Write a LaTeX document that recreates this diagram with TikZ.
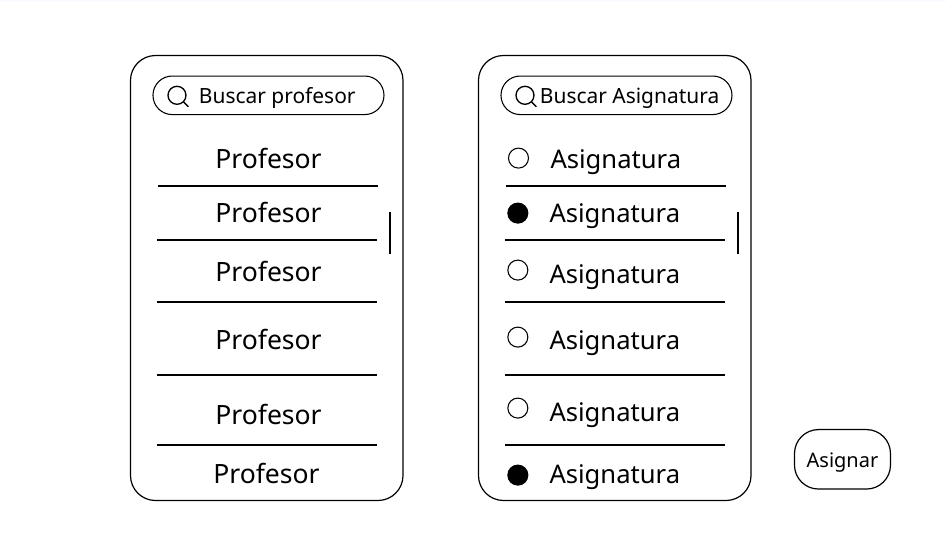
\documentclass[tikz,border=0pt]{standalone}
\usepackage{fontspec}
\setmainfont{Noto Sans}
\usetikzlibrary{positioning}

\begin{document}
\begin{tikzpicture}[
  x=0.75pt, y=-0.75pt,
  every node/.style={outer sep=0pt},
  panel/.style={draw, rounded corners=18.75pt, minimum width=204.4pt,
              minimum height=333.75pt, inner sep=0pt, line width=0.9pt},
  searchbox/.style={draw, rounded corners=14.4pt, minimum width=173.25pt,
              minimum height=28.9pt, inner sep=0pt, line width=0.8pt},
  lens/.style={draw, circle, minimum size=13.5pt, inner sep=0pt, line width=1pt},
  searchtext/.style={inner sep=0pt, text height=13.85pt, text depth=1.15pt,
              font=\fontsize{15.7}{18}\selectfont},
  item/.style={inner sep=0pt, minimum height=22.5pt, text height=18.75pt, text depth=3.75pt,
              font=\fontsize{19.9}{23}\selectfont},
  subject/.style={item, font=\fontsize{19.2}{23}\selectfont},
  radio/.style={draw, circle, minimum size=15pt, inner sep=0pt, line width=0.8pt},
  chosen/.style={radio, fill=black},
  sep/.style={line width=1.1pt},
  scrollmark/.style={line width=1.5pt},
  sendbox/.style={draw, rounded corners=18pt, minimum width=72pt,
              minimum height=44.6pt, inner sep=0pt, line width=0.9pt,
              text height=13.85pt, text depth=1.15pt,
              font=\fontsize{15}{18}\selectfont}
 ]
\useasboundingbox (0,0) rectangle (946,536);
\fill[black!4!blue!2!white] (0,0) rectangle (946,1.5);

% teachers
\node[panel] (panelA) at (266.75,278) {};
\node[searchbox, below=15.4pt of panelA.north, xshift=1.3pt] (searchA) {};
\node[lens, right=11.25pt of searchA.west] (lensA) {};
\coordinate[below right=3.75pt and 3.75pt of lensA.south east] (handleA);
\node[searchtext, right=9.75pt of lensA] (labelA) {Buscar profesor};
\node[item, below=21.4pt of searchA] (profA) {Profesor};
\node[item, below=18pt of profA] (profB) {Profesor};
\node[item, below=21.75pt of profB] (profC) {Profesor};
\node[item, below=28.5pt of profC] (profD) {Profesor};
\node[item, below=33.75pt of profD] (profE) {Profesor};
\node[item, below=21.75pt of profE, xshift=-1.5pt] (profF) {Profesor};
\coordinate (sepAl) at (158,186);
\coordinate (sepAr) at (378,186);
\coordinate (sepBl) at (157,240);
\coordinate (sepBr) at (377,240);
\coordinate (sepCl) at (157,302);
\coordinate (sepCr) at (377,302);
\coordinate (sepDl) at (157,375);
\coordinate (sepDr) at (377,375);
\coordinate (sepEl) at (157,445);
\coordinate (sepEr) at (377,445);
\coordinate[below left=117.4pt and 10.1pt of panelA.north east] (scrollAt);
\coordinate[below left=148.9pt and 10.1pt of panelA.north east] (scrollAb);
\draw[line width=1pt] (lensA) -- (handleA);
\draw[sep] (sepAl) -- (sepAr);
\draw[sep] (sepBl) -- (sepBr);
\draw[sep] (sepCl) -- (sepCr);
\draw[sep] (sepDl) -- (sepDr);
\draw[sep] (sepEl) -- (sepEr);
\draw[scrollmark] (scrollAt) -- (scrollAb);

% subjects
\node[panel, right=56.6pt of panelA] (panelB) {};
\node[searchbox, below=15.4pt of panelB.north, xshift=1.3pt] (searchB) {};
\node[lens, right=11.25pt of searchB.west] (lensB) {};
\coordinate[below right=3.75pt and 3.75pt of lensB.south east] (handleB);
\node[searchtext, right=4.5pt of lensB] (labelB) {Buscar Asignatura};
\node[subject, below=21.4pt of searchB, xshift=-0.5pt] (asigA) {Asignatura};
\node[subject, below=18pt of asigA, xshift=-0.75pt] (asigB) {Asignatura};
\node[subject, below=23.25pt of asigB] (asigC) {Asignatura};
\node[subject, below=27pt of asigC] (asigD) {Asignatura};
\node[subject, below=31.5pt of asigD] (asigE) {Asignatura};
\node[subject, below=24pt of asigE] (asigF) {Asignatura};
\node[radio, left=16.5pt of asigA] (radioA) {};
\node[chosen, left=16.25pt of asigB, yshift=-0.75pt] (radioB) {};
\node[radio, left=16.25pt of asigC, yshift=2.25pt] (radioC) {};
\node[radio, left=16.25pt of asigD, yshift=1.5pt] (radioD) {};
\node[radio, left=16.25pt of asigE, yshift=2.25pt] (radioE) {};
\node[chosen, left=16.25pt of asigF, yshift=-1.5pt] (radioF) {};
\coordinate (lineAl) at (506,186);
\coordinate (lineAr) at (726,186);
\coordinate (lineBl) at (505,240);
\coordinate (lineBr) at (725,240);
\coordinate (lineCl) at (505,302);
\coordinate (lineCr) at (725,302);
\coordinate (lineDl) at (505,375);
\coordinate (lineDr) at (725,375);
\coordinate (lineEl) at (505,445);
\coordinate (lineEr) at (725,445);
\coordinate[below left=117.4pt and 10.1pt of panelB.north east] (scrollBt);
\coordinate[below left=148.9pt and 10.1pt of panelB.north east] (scrollBb);
\draw[line width=1pt] (lensB) -- (handleB);
\draw[sep] (lineAl) -- (lineAr);
\draw[sep] (lineBl) -- (lineBr);
\draw[sep] (lineCl) -- (lineCr);
\draw[sep] (lineDl) -- (lineDr);
\draw[sep] (lineEl) -- (lineEr);
\draw[scrollmark] (scrollBt) -- (scrollBb);

\node[sendbox, above right=8.6pt and 32.6pt of panelB.south east] (assign) {Asignar};
\end{tikzpicture}
\end{document}
